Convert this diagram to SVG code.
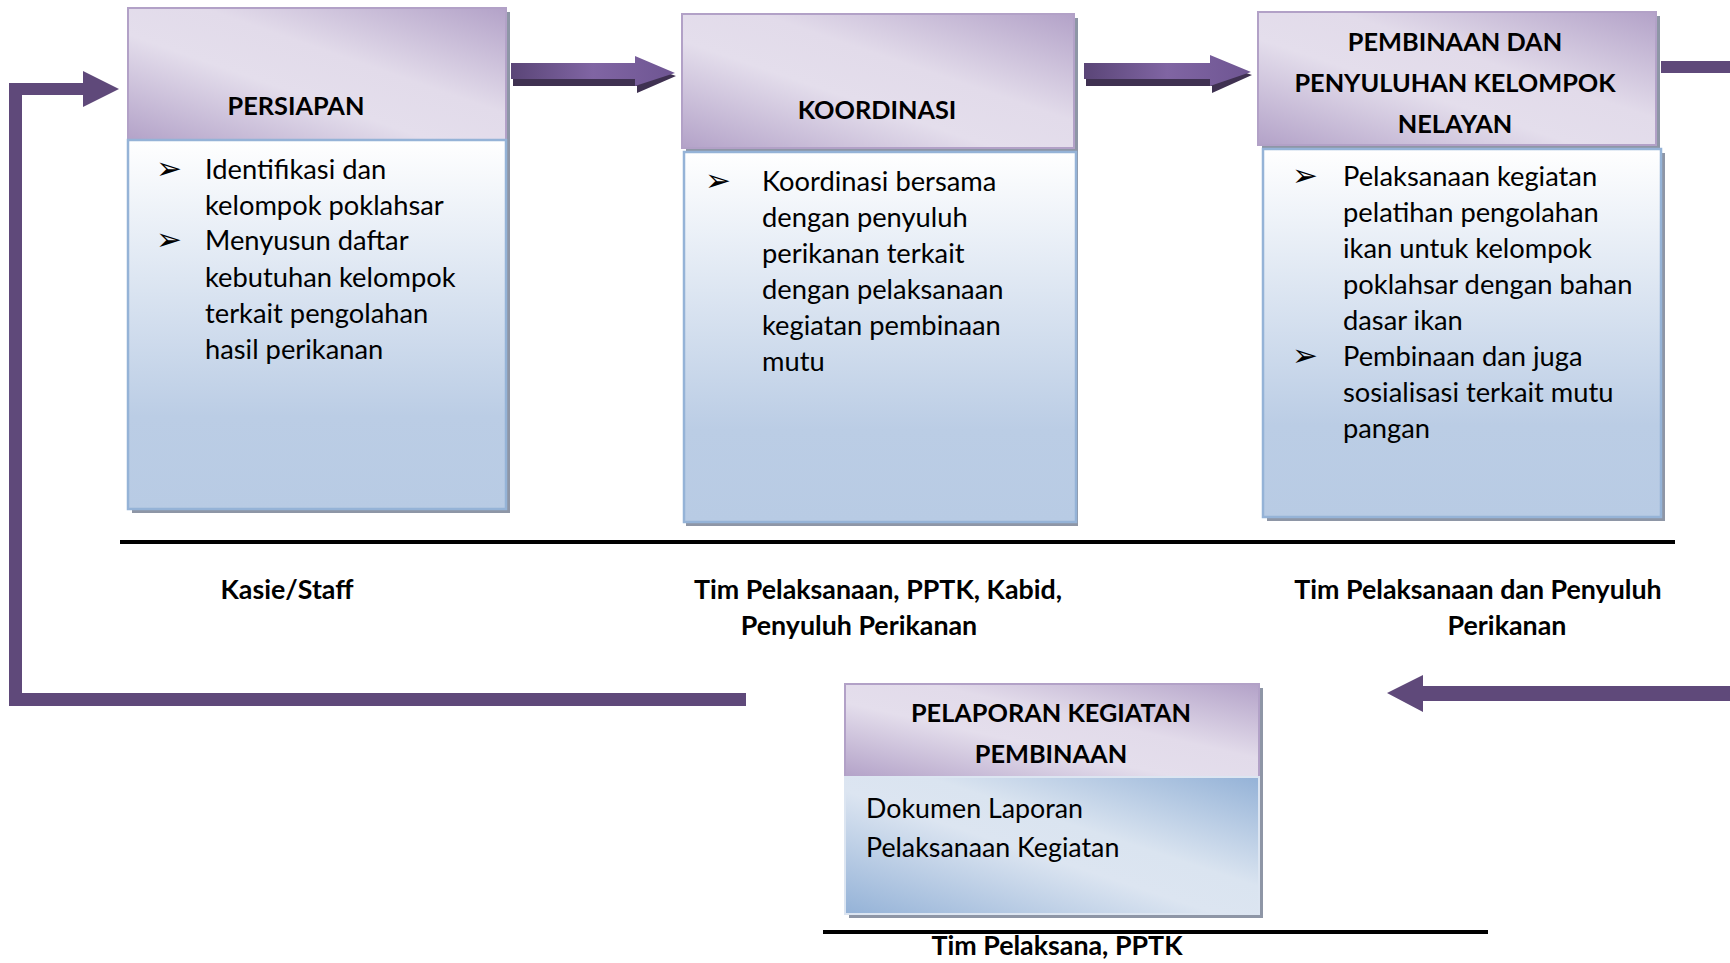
<svg xmlns="http://www.w3.org/2000/svg" width="1730" height="963" viewBox="0 0 1730 963">
  <defs>
    <linearGradient id="hdr" x1="0" y1="1" x2="1" y2="0">
      <stop offset="0" stop-color="#B3A2C8"/>
      <stop offset="0.4" stop-color="#E4DEEC"/>
      <stop offset="0.6" stop-color="#E2DBEA"/>
      <stop offset="1" stop-color="#B3A2C8"/>
    </linearGradient>
    <linearGradient id="body" x1="0" y1="0" x2="0" y2="1">
      <stop offset="0" stop-color="#FFFFFF"/>
      <stop offset="0.75" stop-color="#BBCDE5"/>
      <stop offset="1" stop-color="#B8CBE4"/>
    </linearGradient>
    <linearGradient id="bodyDiag" x1="0" y1="1" x2="1" y2="0">
      <stop offset="0" stop-color="#94B2D7"/>
      <stop offset="0.45" stop-color="#DCE5F1"/>
      <stop offset="0.6" stop-color="#DAE4F0"/>
      <stop offset="1" stop-color="#94B2D7"/>
    </linearGradient>
    <linearGradient id="arrowFace" x1="0" y1="0" x2="1" y2="0">
      <stop offset="0" stop-color="#5A4577"/>
      <stop offset="0.5" stop-color="#8065A3"/>
      <stop offset="1" stop-color="#6E5592"/>
    </linearGradient>
    <style>
      .hdr { fill: url(#hdr); stroke: #B2A1C7; stroke-width: 2; }
      .body { fill: url(#body); stroke: #95B3D7; stroke-width: 2.5; }
      .bodyDiag { fill: url(#bodyDiag); stroke: #DCE5F1; stroke-width: 2; }
      .shadow { fill: #8E96A6; }
      .title { font-family: Lato, "Liberation Sans", sans-serif; font-weight: bold; font-size: 25.3px; fill: #000; text-anchor: middle; }
      .txt { font-family: Lato, "Liberation Sans", sans-serif; font-size: 27.3px; fill: #000; }
      .txt2 { font-family: Lato, "Liberation Sans", sans-serif; font-size: 26.8px; fill: #000; }
      .bul { font-family: "DejaVu Sans", sans-serif; font-size: 31px; fill: #000; }
      .lbl { font-family: Lato, "Liberation Sans", sans-serif; font-weight: bold; font-size: 26.8px; fill: #000; text-anchor: middle; }
      .rule { stroke: #000; stroke-width: 4; }
      .flow { fill: #5F497A; }
      .face { fill: url(#arrowFace); }
      .depth { fill: #3F3151; }
    </style>
  </defs>

  <rect width="1730" height="963" fill="#FFFFFF"/>

  <!-- connectors -->
  <g id="connectors">
    <!-- PERSIAPAN to KOORDINASI: bevelled block arrow -->
    <polygon class="depth" points="513,70 637,70 637,62 676,76 637,93 637,86 513,86"/>
    <polygon class="face" points="511,63 635,63 635,56 675,73 635,86 635,79 511,79"/>
    <!-- KOORDINASI to PEMBINAAN -->
    <polygon class="depth" points="1086,70 1212,70 1212,61 1252,75 1212,93 1212,86 1086,86"/>
    <polygon class="face" points="1084,63 1210,63 1210,55 1251,72 1210,86 1210,79 1084,79"/>
    <!-- PEMBINAAN leaving to the right -->
    <rect class="flow" x="1661" y="61" width="69" height="12"/>
    <!-- returning from the right towards PELAPORAN -->
    <polygon class="flow" points="1730,686 1423,686 1423,675 1387,693 1423,712 1423,701 1730,701"/>
    <!-- feedback loop back to PERSIAPAN -->
    <polygon class="flow" points="746,693 746,706 9,706 9,83 83,83 83,71 119,89 83,107 83,95 22,95 22,693"/>
    <!-- rules under the columns -->
    <line class="rule" x1="120" y1="542" x2="1675" y2="542"/>
    <line class="rule" x1="823" y1="932" x2="1488" y2="932"/>
  </g>

  <!-- PERSIAPAN -->
  <g id="persiapan">
    <rect class="shadow" x="132" y="12" width="378" height="501"/>
    <rect class="hdr" x="128" y="8" width="378" height="132"/>
    <rect class="body" x="128" y="140" width="378" height="369"/>
    <text class="title" x="296" y="115">PERSIAPAN</text>
    <text class="bul" x="156" y="179">➢</text>
    <text class="txt" x="205" y="179">Identifikasi dan</text>
    <text class="txt" x="205" y="215">kelompok poklahsar</text>
    <text class="bul" x="156" y="250">➢</text>
    <text class="txt" x="205" y="250">Menyusun daftar</text>
    <text class="txt" x="205" y="287">kebutuhan kelompok</text>
    <text class="txt" x="205" y="323">terkait pengolahan</text>
    <text class="txt" x="205" y="359">hasil perikanan</text>
  </g>

  <!-- KOORDINASI -->
  <g id="koordinasi">
    <rect class="shadow" x="686" y="18" width="392" height="508"/>
    <rect class="hdr" x="682" y="14" width="392" height="134"/>
    <rect class="body" x="684" y="152" width="392" height="370"/>
    <text class="title" x="877" y="119">KOORDINASI</text>
    <text class="bul" x="705" y="191">➢</text>
    <text class="txt" x="762" y="191">Koordinasi bersama</text>
    <text class="txt" x="762" y="227">dengan penyuluh</text>
    <text class="txt" x="762" y="263">perikanan terkait</text>
    <text class="txt" x="762" y="299">dengan pelaksanaan</text>
    <text class="txt" x="762" y="335">kegiatan pembinaan</text>
    <text class="txt" x="762" y="371">mutu</text>
  </g>

  <!-- PEMBINAAN DAN PENYULUHAN KELOMPOK NELAYAN -->
  <g id="pembinaan">
    <rect class="shadow" x="1262" y="16" width="398" height="133"/>
    <rect class="shadow" x="1267" y="153" width="398" height="368"/>
    <rect class="hdr" x="1258" y="12" width="398" height="133"/>
    <rect class="body" x="1263" y="149" width="398" height="368"/>
    <text class="title" x="1455" y="51">PEMBINAAN DAN</text>
    <text class="title" x="1455" y="92">PENYULUHAN KELOMPOK</text>
    <text class="title" x="1455" y="133">NELAYAN</text>
    <text class="bul" x="1292" y="186">➢</text>
    <text class="txt" x="1343" y="186">Pelaksanaan kegiatan</text>
    <text class="txt" x="1343" y="222">pelatihan pengolahan</text>
    <text class="txt" x="1343" y="258">ikan untuk kelompok</text>
    <text class="txt" x="1343" y="294">poklahsar dengan bahan</text>
    <text class="txt" x="1343" y="330">dasar ikan</text>
    <text class="bul" x="1292" y="366">➢</text>
    <text class="txt" x="1343" y="366">Pembinaan dan juga</text>
    <text class="txt" x="1343" y="402">sosialisasi terkait mutu</text>
    <text class="txt" x="1343" y="438">pangan</text>
  </g>

  <!-- column labels -->
  <g id="labels">
    <text class="lbl" x="287" y="599">Kasie/Staff</text>
    <text class="lbl" x="878" y="599">Tim Pelaksanaan, PPTK, Kabid,</text>
    <text class="lbl" x="859" y="635">Penyuluh Perikanan</text>
    <text class="lbl" x="1478" y="599">Tim Pelaksanaan dan Penyuluh</text>
    <text class="lbl" x="1507" y="635">Perikanan</text>
    <text class="lbl" x="1057" y="955">Tim Pelaksana, PPTK</text>
  </g>

  <!-- PELAPORAN KEGIATAN PEMBINAAN -->
  <g id="pelaporan">
    <rect class="shadow" x="849" y="688" width="414" height="230"/>
    <rect class="hdr" x="845" y="684" width="414" height="93"/>
    <rect class="bodyDiag" x="845" y="777" width="414" height="137"/>
    <text class="title" x="1051" y="722">PELAPORAN KEGIATAN</text>
    <text class="title" x="1051" y="763">PEMBINAAN</text>
    <text class="txt2" x="866" y="818">Dokumen Laporan</text>
    <text class="txt2" x="866" y="857">Pelaksanaan Kegiatan</text>
  </g>
</svg>
